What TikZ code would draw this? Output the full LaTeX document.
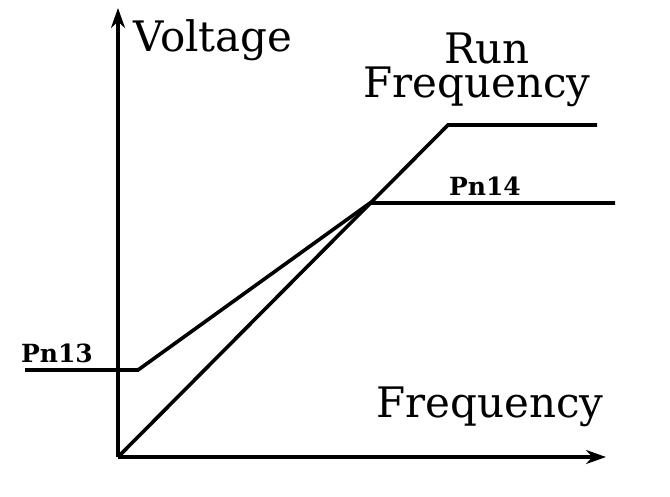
\documentclass[tikz,border=0pt]{standalone}
\usepackage{fontspec}
\setmainfont{DejaVu Serif}
\usetikzlibrary{arrows.meta}
\begin{document}
\begin{tikzpicture}[x=1pt,y=-1pt,
  ln/.style={line width=3.6pt,line join=miter},
  ax/.style={line width=3.6pt,-{Stealth[length=20pt,width=14pt]}},
  big/.style={inner sep=0pt,anchor=center,font=\fontsize{42}{45}\selectfont},
  small/.style={inner sep=0pt,anchor=center,font=\fontsize{25}{27}\selectfont\bfseries}]
\useasboundingbox (0,0) rectangle (670,496);
\coordinate (O) at (118,457);
\coordinate (yt) at (118,8);
\coordinate (xt) at (606,457);
\draw[ax] (O) -- (yt);
\draw[ax] (O) -- (xt);
\coordinate (r1) at (448,125);
\coordinate (r2) at (597,125);
\draw[ln] (O) -- (r1) -- (r2);
\coordinate (p0) at (25,370);
\coordinate (p1) at (138,370);
\coordinate (p2) at (370,203);
\coordinate (p3) at (615,203);
\draw[ln] (p0) -- (p1) -- (p2) -- (p3);
\node[big] (v) at (213,40) {Voltage};
\node[big] (run) at (487,48) {Run};
\node[big] (rf) at (477,87) {Frequency};
\node[big] (f) at (490,407) {Frequency};
\node[small] (pn14) at (485,186) {Pn14};
\node[small] (pn13) at (57,353) {Pn13};
\end{tikzpicture}
\end{document}
